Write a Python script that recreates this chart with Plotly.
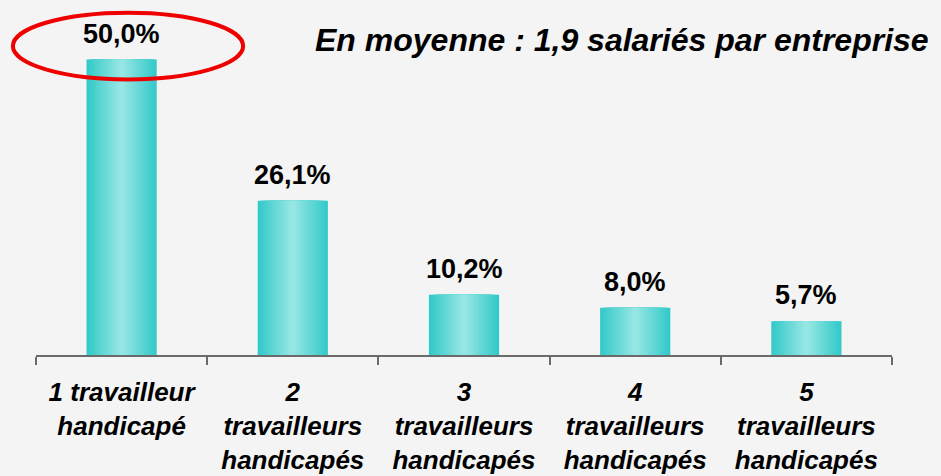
import plotly.graph_objects as go

# --- data ---
categories = ["1 travailleur<br>handicapé", "2<br>travailleurs<br>handicapés",
              "3<br>travailleurs<br>handicapés", "4<br>travailleurs<br>handicapés",
              "5<br>travailleurs<br>handicapés"]
values = [50.0, 26.1, 10.2, 8.0, 5.7]
value_labels = ["50,0%", "26,1%", "10,2%", "8,0%", "5,7%"]
title_text = "En moyenne : 1,9 salariés par entreprise"

FONT = "Liberation Sans, Arial, sans-serif"
BG = "#f4f4f4"

fig = go.Figure()

# fake horizontal gradient: stacked overlays, narrower = lighter
n_layers = 14
dark = (52, 202, 202)
light = (150, 230, 227)
bar_w = 0.41
for k in range(n_layers):
    t = k / (n_layers - 1)
    rgb = tuple(round(d + (l - d) * t) for d, l in zip(dark, light))
    fig.add_trace(go.Bar(
        x=categories,
        y=values,
        width=bar_w * (1 - k / n_layers),
        marker=dict(color="rgb(%d,%d,%d)" % rgb, line=dict(width=0)),
        hoverinfo="skip",
        showlegend=False,
    ))

# value labels above bars
for i, (v, lab) in enumerate(zip(values, value_labels)):
    fig.add_annotation(
        x=i, y=v, text=lab, showarrow=False,
        yanchor="bottom", yshift=9,
        font=dict(family=FONT, size=27, color="black", weight="bold"),
    )

# title on the right
fig.add_annotation(
    xref="paper", yref="paper", x=1.046, y=1.0,
    xanchor="right", yanchor="middle", yshift=-10,
    text=title_text, showarrow=False,
    font=dict(family=FONT, size=32, color="black", weight="bold", style="italic"),
)

# red ellipse around the top value (paper refs so it is not clipped)
fig.add_shape(
    type="circle", xref="paper", yref="paper",
    x0=-0.027, x1=0.242, y0=0.848, y1=1.053,
    line=dict(color="#ee0000", width=4),
)

fig.update_layout(
    barmode="overlay",
    width=941, height=476,
    margin=dict(l=36, r=49, t=30, b=121),
    paper_bgcolor=BG, plot_bgcolor=BG,
    showlegend=False,
)

fig.update_xaxes(
    type="category",
    range=[-0.5, len(categories) - 0.5],
    tickson="boundaries",
    automargin=False,
    showline=True, linecolor="#6a6a6a", linewidth=1.5,
    ticks="outside", ticklen=8, tickcolor="#6a6a6a", tickwidth=1.5,
    ticklabelstandoff=13,
    showgrid=False, zeroline=False,
    tickfont=dict(family=FONT, size=26, color="black", weight="bold", style="italic"),
)

fig.update_yaxes(range=[0, 55], visible=False, showgrid=False, zeroline=False,
                 automargin=False)

# page body has a default 8px margin; drop it so the figure fills the window
fig.write_html("out.html", config={"displayModeBar": False},
               post_script="document.body.style.margin='0';")
